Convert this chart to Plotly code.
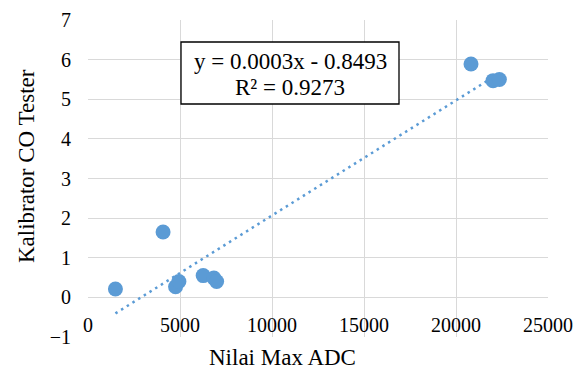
import numpy as np
import plotly.graph_objects as go

adc = [1490, 4080, 4760, 4940, 6260, 6840, 6990, 20816, 22014, 22357]
co = [0.21, 1.65, 0.27, 0.40, 0.55, 0.49, 0.40, 5.89, 5.47, 5.50]
x_ticks = [0, 5000, 10000, 15000, 20000, 25000]
y_ticks = [-1, 0, 1, 2, 3, 4, 5, 6, 7]
equation_lines = ["y = 0.0003x - 0.8493", "R² = 0.9273"]

FONT = "Liberation Serif"
BLUE = "#5B9BD5"

# page has an 8px body margin; figure placed at (8, 8)
OFF = 8
W, H = 587 - OFF, 370 - OFF
L, T = 88 - OFF, 20 - OFF
R = W - (548 - OFF)
B = H - (337 - OFF)
PW, PH = W - L - R, H - T - B


def px_x(p):
    return (p - OFF - L) / PW


def px_y(p):
    return (H - B - (p - OFF)) / PH


slope, intercept = np.polyfit(adc, co, 1)
tx = [min(adc), max(adc)]
ty = [slope * v + intercept for v in tx]

fig = go.Figure()
fig.add_trace(go.Scatter(x=tx, y=ty, mode="lines",
                         line=dict(color=BLUE, width=2.5, dash="2.5px,4.2px"),
                         hoverinfo="skip", showlegend=False))
fig.add_trace(go.Scatter(x=adc, y=co, mode="markers",
                         marker=dict(color=BLUE, size=15),
                         showlegend=False))

# x tick labels placed along y = 0 (Excel axis crossing)
for t in x_ticks:
    fig.add_annotation(x=t, y=0, xref="x", yref="y", text=str(t), showarrow=False,
                       yanchor="middle", yshift=-28,
                       font=dict(family=FONT, size=20, color="black"))

# trendline label box
fig.add_shape(type="rect", xref="paper", yref="paper",
              x0=px_x(181), x1=px_x(399), y0=px_y(104), y1=px_y(42),
              fillcolor="white", line=dict(color="black", width=1.3), layer="above")
for line_text, yc in zip(equation_lines, [62, 87]):
    fig.add_annotation(x=px_x(290), y=px_y(yc), xref="paper", yref="paper",
                       text=line_text, showarrow=False, xanchor="center", yanchor="middle",
                       font=dict(family=FONT, size=23, color="black"))

fig.add_annotation(x=px_x(282), y=px_y(357), xref="paper", yref="paper",
                   text="Nilai Max ADC", showarrow=False, xanchor="center", yanchor="middle",
                   font=dict(family=FONT, size=23, color="black"))
fig.add_annotation(x=px_x(26), y=px_y(166), xref="paper", yref="paper",
                   text="Kalibrator CO Tester", textangle=-90, showarrow=False,
                   xanchor="center", yanchor="middle",
                   font=dict(family=FONT, size=23, color="black"))

fig.update_layout(
    width=W, height=H,
    margin=dict(l=L, r=R, t=T, b=B, autoexpand=False),
    paper_bgcolor="white", plot_bgcolor="white",
    font=dict(family=FONT, size=20, color="black"),
)

fig.update_xaxes(range=[0, 25000], tickvals=x_ticks, showticklabels=False,
                 showgrid=True, gridcolor="#D9D9D9", gridwidth=1, zeroline=False,
                 showline=False, automargin=False)
fig.update_yaxes(range=[-1, 7], tickvals=y_ticks, showgrid=True, gridcolor="#D9D9D9",
                 gridwidth=1, zeroline=False, showline=False, ticks="", automargin=False,
                 ticklabelstandoff=16, tickfont=dict(family=FONT, size=20, color="black"))

fig.write_html("out.html")
